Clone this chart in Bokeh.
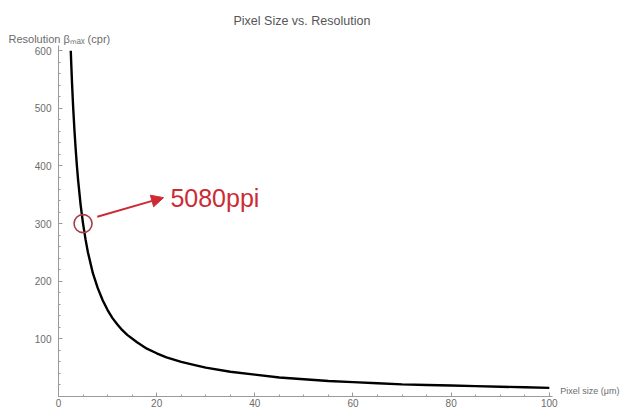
from bokeh.plotting import figure
from bokeh.models import Range1d, Label, Arrow, NormalHead, FixedTicker, Title
from bokeh.embed import file_html
from bokeh.resources import INLINE

# data
pixel_size = [2.5, 2.6, 2.75, 2.9, 3, 3.25, 3.5, 3.75, 4, 4.5, 5, 5.5, 6, 7, 8, 9, 10,
              11, 12, 13, 14, 16, 18, 20, 22, 25, 28, 30, 35, 40, 45, 50, 55, 60,
              65, 70, 75, 80, 85, 90, 95, 100]
resolution = [600, 577, 545, 517, 500, 462, 429, 400, 375, 333, 300, 273, 250, 214,
              188, 167, 150, 136, 125, 115, 107, 94, 83, 75, 68, 60, 54, 50, 43, 38,
              33, 30, 27, 25, 23, 21, 20, 19, 18, 17, 16, 15]
x_ticks = [0, 20, 40, 60, 80, 100]
y_ticks = [100, 200, 300, 400, 500, 600]
marked_size = [5]
marked_res = [300]
marked_label = "5080ppi"

title_text = "Pixel Size vs. Resolution"
y_label_text = "Resolution \u03b2\u2098\u2090\u2093 (cpr)"
x_label_text = "Pixel size (\u03bcm)"

FONT = "Liberation Sans"
GRAY = "#9a9a9a"
TXT = "#6b6b6b"
RED = "#cc2b36"

p = figure(width=620, height=412, output_backend="svg", toolbar_location=None,
           title=None,
           x_range=Range1d(0, 114.5), y_range=Range1d(0, 609),
           min_border_left=58, min_border_right=0, min_border_top=45,
           min_border_bottom=16)
p.outline_line_color = None
p.grid.visible = False

# titles (closest to frame first)
p.add_layout(Title(text=y_label_text, align="left", offset=-50, standoff=2,
                   text_font=FONT, text_font_size="11px", text_color=TXT,
                   text_font_style="normal"), "above")
p.add_layout(Title(text=title_text, align="left", offset=175, standoff=4,
                   text_font=FONT, text_font_size="12.5px", text_color="#555555",
                   text_font_style="normal"), "above")

p.xaxis.ticker = FixedTicker(ticks=x_ticks, minor_ticks=list(range(0, 101, 5)))
p.yaxis.ticker = FixedTicker(ticks=y_ticks, minor_ticks=list(range(0, 601, 20)))
p.xaxis.bounds = (0, 100.6)
p.yaxis.bounds = (0, 609)
for ax in (p.xaxis[0], p.yaxis[0]):
    ax.axis_line_color = GRAY
    ax.major_tick_line_color = GRAY
    ax.minor_tick_line_color = GRAY
    ax.major_tick_in = 4
    ax.major_tick_out = 0
    ax.minor_tick_in = 2
    ax.minor_tick_out = 0
    ax.major_label_text_font = FONT
    ax.major_label_text_font_size = "10px"
    ax.major_label_text_color = TXT
p.xaxis.major_label_standoff = 2
p.yaxis.major_label_standoff = 7

p.line(pixel_size, resolution, line_color="black", line_width=2.4)

p.scatter(marked_size, marked_res, size=18, fill_color=None,
          line_color="#a83a48", line_width=1.6)

p.add_layout(Arrow(x_start=7.9, y_start=312, x_end=21.4, y_end=345,
                   line_color=RED, line_width=2,
                   end=NormalHead(size=12, fill_color=RED, line_color=RED)))

p.add_layout(Label(x=22.8, y=329.5, y_offset=9, text=marked_label, text_font=FONT,
                   text_font_size="25px", text_color=RED,
                   text_baseline="alphabetic", text_align="left"))

p.add_layout(Label(x=100.6, y=0, x_offset=8, y_offset=1, text=x_label_text,
                   text_font=FONT, text_font_size="9px", text_color=TXT,
                   text_align="left", text_baseline="bottom"))

open("out.html", "w").write(file_html(p, INLINE))
